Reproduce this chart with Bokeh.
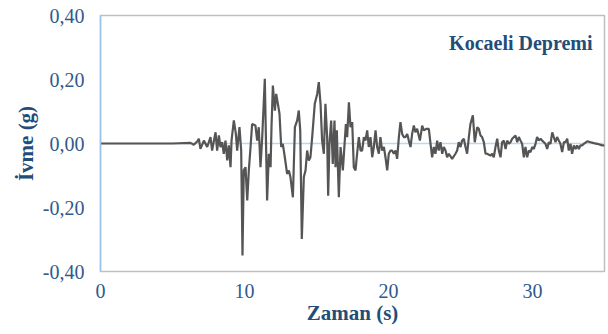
from bokeh.plotting import figure
from bokeh.models import Span, Label, FixedTicker, CustomJSTickFormatter, Range1d
from bokeh.embed import file_html
from bokeh.resources import INLINE

# Kocaeli earthquake acceleration record
time_s = [0.0, 4.0, 5.0, 6.25, 6.48, 6.71, 6.83, 6.94, 7.18, 7.41, 7.64, 7.75, 7.99, 8.10, 8.22,
          8.33, 8.45, 8.56, 8.68, 8.80, 8.91, 9.03, 9.10, 9.26, 9.40, 9.49, 9.65, 9.77, 9.86,
          9.95, 10.07, 10.19, 10.30, 10.42, 10.53, 10.76,
          10.88, 10.99, 11.11, 11.23, 11.41, 11.57, 11.69, 11.81, 11.875, 11.97, 12.11, 12.20,
          12.32, 12.43, 12.55, 12.66, 12.80, 12.96, 13.08, 13.19, 13.36, 13.50, 13.66, 13.77,
          13.87, 13.98, 14.12, 14.24, 14.35, 14.47, 14.58, 14.70, 14.88, 15.05, 15.16, 15.28,
          15.39, 15.51, 15.62, 15.74, 15.81, 15.90, 16.02, 16.13, 16.25, 16.32, 16.41, 16.55,
          16.67, 16.83,
          17.04, 17.13, 17.25, 17.36, 17.48, 17.59, 17.71, 17.82, 17.94, 18.06, 18.17, 18.29,
          18.40, 18.52, 18.63, 18.75, 18.87, 18.98, 19.10, 19.21, 19.33, 19.44, 19.56, 19.68,
          19.79, 19.91, 20.02, 20.14, 20.25, 20.37, 20.49, 20.60, 20.72, 20.83, 20.95, 21.06,
          21.18, 21.30, 21.41, 21.53, 21.64, 21.76, 21.87, 21.99, 22.18, 22.34, 22.45, 22.64,
          22.80, 22.92, 23.03, 23.15, 23.26, 23.38, 23.49, 23.61, 23.73, 23.84, 23.96, 24.07,
          24.19, 24.42, 24.65, 24.77, 24.88, 25.00, 25.11, 25.23, 25.35, 25.46, 25.58, 25.69,
          25.86, 25.99, 26.16, 26.27, 26.39, 26.50, 26.62, 26.74, 26.85, 27.08, 27.20, 27.31,
          27.43, 27.55, 27.66, 27.78, 27.89, 28.01, 28.13, 28.24, 28.36, 28.47, 28.59,
          28.82, 28.94, 29.05, 29.17, 29.28, 29.40, 29.51, 29.63, 29.75, 29.86, 29.98, 30.09,
          30.21, 30.32, 30.44, 30.56, 30.67, 30.79, 30.90, 31.02, 31.13, 31.25, 31.37, 31.48,
          31.60, 31.71, 31.83, 31.94, 32.06, 32.18, 32.29, 32.41, 32.52, 32.64, 32.75, 32.87,
          32.99, 33.10, 33.22, 33.33, 33.45, 33.56, 33.80, 34.03, 34.26, 34.49, 34.84, 35.0]

accel_g = [0.0, 0.0, 0.0, 0.002, -0.004, 0.006, 0.015, -0.017, 0.009, -0.011, 0.020, -0.022, 0.035, -0.022, 0.025,
           -0.011, 0.004, -0.032, 0.009, -0.053, -0.006, -0.074, 0.009, 0.072, 0.030, -0.022, 0.051, -0.022, -0.350,
           -0.084, -0.074, -0.178, -0.084, -0.011, 0.061, 0.056,
           0.009, 0.051, -0.074, 0.020, 0.202, -0.178, -0.032, -0.074, 0.051, 0.181, 0.103, 0.155,
           0.124, 0.093, -0.011, -0.001, -0.043, -0.095, -0.084, -0.105, -0.168, 0.051, 0.072, 0.103,
           0.041, -0.298, -0.105, -0.084, -0.022, -0.053, -0.043, 0.020, 0.124, 0.155, 0.192, 0.124,
           0.009, -0.032, 0.124, 0.020, -0.163, -0.001, 0.072, -0.064, 0.072, -0.074, 0.041, -0.168,
           -0.011, -0.084,
           0.061, 0.020, 0.129, 0.051, 0.067, -0.074, -0.084, -0.032, 0.020, -0.022, -0.022, 0.020,
           0.009, 0.041, -0.011, 0.020, -0.043, -0.011, 0.041, -0.011, -0.032, 0.020, -0.022, -0.011,
           -0.043, -0.084, -0.032, -0.022, -0.022, -0.032, -0.022, -0.048, 0.020, 0.067, 0.030, 0.020,
           0.020, 0.030, 0.009, -0.011, 0.030, 0.056, 0.035, 0.046, 0.009, 0.056, 0.041, 0.046,
           0.046, -0.001, -0.043, -0.011, -0.032, 0.009, -0.022, 0.004, -0.032, -0.011, -0.022, -0.043,
           -0.032, -0.048, -0.032, -0.022, 0.004, -0.011, 0.009, 0.015, -0.011, -0.032, 0.020, 0.061,
           0.088, 0.004, 0.051, 0.046, 0.025, 0.020, 0.004, -0.032, -0.032, -0.038, -0.032, -0.043,
           -0.011, 0.015, -0.022, -0.043, 0.004, 0.009, -0.017, 0.009, -0.001, 0.004, 0.015,
           0.025, 0.004, 0.020, 0.009, -0.001, -0.043, -0.011, -0.043, -0.022, -0.027, -0.011, -0.017,
           -0.001, 0.020, 0.009, 0.015, 0.009, 0.004, -0.001, -0.017, 0.004, -0.001, 0.035, 0.020,
           0.004, 0.020, 0.009, -0.001, -0.027, 0.004, 0.004, 0.015, -0.022, -0.001, -0.032, -0.006,
           -0.017, -0.006, -0.017, -0.006, -0.006, -0.001, 0.007, 0.004, 0.001, -0.001, -0.006, -0.006]

x_ticks = [0, 10, 20, 30]
y_ticks = [-0.4, -0.2, 0.0, 0.2, 0.4]
title_text = "Kocaeli Depremi"
x_label = "Zaman (s)"
y_label = "İvme (g)"

FONT = "'Liberation Serif', serif"
TICK_COLOR = "#2E5A8C"
LABEL_COLOR = "#1F4E79"

p = figure(width=608, height=334, output_backend="svg", toolbar_location=None,
           x_range=Range1d(0, 35), y_range=Range1d(-0.4, 0.4),
           min_border_left=100, min_border_right=4, min_border_top=15, min_border_bottom=63)

p.background_fill_color = "white"
p.border_fill_color = "white"
p.outline_line_color = "#BFBFBF"
p.outline_line_width = 1.5
p.xgrid.visible = False
p.ygrid.visible = False

zero = Span(location=0, dimension="width", line_color="#BDD7EE", line_width=1.5, level="underlay")
p.add_layout(zero)

p.line(time_s, accel_g, line_color="#555555", line_width=2.2)

p.xaxis.ticker = FixedTicker(ticks=x_ticks)
p.yaxis.ticker = FixedTicker(ticks=y_ticks)
p.yaxis.formatter = CustomJSTickFormatter(code="return tick.toFixed(2).replace('.', ',');")

for ax in (p.xaxis, p.yaxis):
    ax.major_tick_line_color = None
    ax.minor_tick_line_color = None
    ax.major_tick_out = 0
    ax.major_tick_in = 0
    ax.major_label_text_font = FONT
    ax.major_label_text_font_size = "20px"
    ax.major_label_text_color = TICK_COLOR
    ax.axis_label_text_font = FONT
    ax.axis_label_text_font_size = "21px"
    ax.axis_label_text_font_style = "bold"
    ax.axis_label_text_color = LABEL_COLOR

p.xaxis.axis_line_color = None
p.yaxis.axis_line_color = "#9DC3E6"
p.yaxis.axis_line_width = 1.5
p.xaxis.major_label_standoff = 12
p.yaxis.major_label_standoff = 16
p.xaxis.axis_label = x_label
p.yaxis.axis_label = y_label
p.xaxis.axis_label_standoff = 0
p.yaxis.axis_label_standoff = 2

title = Label(x=34.17, y=0.313, text=title_text, text_align="right", text_baseline="alphabetic",
              text_font=FONT, text_font_size="20px", text_font_style="bold", text_color=LABEL_COLOR)
p.add_layout(title)

open("out.html", "w").write(file_html(p, INLINE))
